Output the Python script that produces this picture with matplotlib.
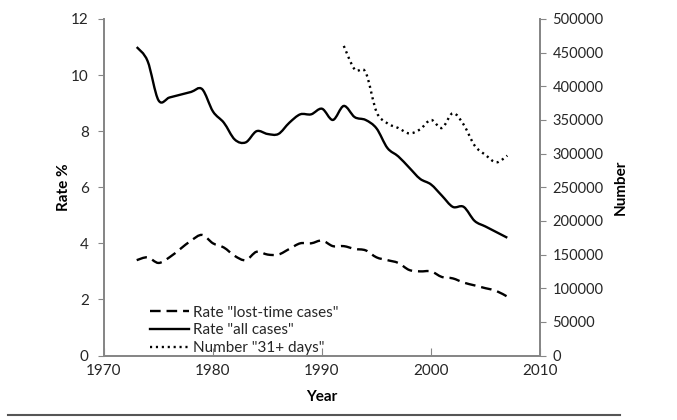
import matplotlib
matplotlib.use('Agg')
import numpy as np
import matplotlib.pyplot as plt
from matplotlib.path import Path
from matplotlib.patches import PathPatch
from matplotlib.lines import Line2D

plt.rcParams['font.family'] = ['Lato', 'DejaVu Sans']

years = list(range(1973, 2008))
rate_lost = [3.4, 3.5, 3.3, 3.5, 3.8, 4.1, 4.3, 4.0, 3.85, 3.55, 3.4, 3.7, 3.6, 3.6, 3.8, 4.0,
             4.0, 4.1, 3.9, 3.9, 3.8, 3.75, 3.5, 3.4, 3.3, 3.05, 3.0, 3.0, 2.8, 2.75, 2.6,
             2.5, 2.4, 2.3, 2.1]
rate_all = [11.0, 10.5, 9.1, 9.2, 9.3, 9.4, 9.5, 8.7, 8.3, 7.7, 7.6, 8.0, 7.9, 7.9, 8.3, 8.6,
            8.6, 8.8, 8.4, 8.9, 8.5, 8.4, 8.1, 7.4, 7.1, 6.7, 6.3, 6.1, 5.7, 5.3, 5.3,
            4.8, 4.6, 4.4, 4.2]
num_years = list(range(1992, 2008))
num_31 = [460000, 425000, 421000, 362000, 345000, 338000, 330000, 336000, 350000, 338000,
          360000, 343000, 312000, 298000, 287000, 297000]

gray = '#868686'
txt = '#262626'
fs = 11


def smooth(ax, x, y, **kw):
    # Excel-style smoothed line as a cubic bezier through the data points
    p = np.column_stack([x, y]).astype(float)
    n = len(p)
    verts = [p[0]]
    codes = [Path.MOVETO]
    for i in range(n - 1):
        p0, p1, p2, p3 = p[max(i - 1, 0)], p[i], p[i + 1], p[min(i + 2, n - 1)]
        verts += [p1 + (p2 - p0) / 6, p2 - (p3 - p1) / 6, p2]
        codes += [Path.CURVE4] * 3
    ax.add_patch(PathPatch(Path(verts, codes), fill=False, **kw))


fig = plt.figure(figsize=(6.77, 4.2), dpi=100)
ax = fig.add_axes([104 / 677, 1 - 355.5 / 420, 436 / 677, 336.5 / 420])
ax2 = ax.twinx()

dash_kw = dict(color='black', lw=1.7, linestyle=(0, (4.5, 2.5)))
solid_kw = dict(color='black', lw=1.7, linestyle='-')
dot_kw = dict(color='black', lw=1.7, linestyle=(0, (0.9, 1.6)))

smooth(ax, years, rate_lost, **dash_kw)
smooth(ax, years, rate_all, **solid_kw)
smooth(ax2, num_years, num_31, **dot_kw)

ax.set_xlim(1970, 2010)
ax.set_ylim(0, 12)
ax2.set_ylim(0, 500000)
ax.set_xticks(range(1970, 2011, 10))
ax.set_yticks(range(0, 13, 2))
ax2.set_yticks(range(0, 500001, 50000))

for a in (ax, ax2):
    a.spines['top'].set_visible(False)
    for s in ('left', 'right', 'bottom'):
        a.spines[s].set_color(gray)
        a.spines[s].set_linewidth(1.3)
ax.tick_params(axis='y', direction='out', length=4, color=gray, labelcolor=txt, labelsize=fs, pad=7)
ax.tick_params(axis='x', direction='in', length=6, color=gray, labelcolor=txt, labelsize=fs, pad=6)
ax2.tick_params(axis='y', direction='out', length=4, color=gray, labelcolor=txt, labelsize=10.5, pad=5)

ax.set_xlabel('Year', fontweight='bold', fontsize=fs, color='black', labelpad=9)
ax.set_ylabel('Rate %', fontweight='bold', fontsize=fs, color='black', labelpad=0)
ax2.set_ylabel('Number', fontweight='bold', fontsize=fs, color='black', labelpad=7)

handles = [Line2D([], [], **dash_kw), Line2D([], [], **solid_kw), Line2D([], [], **dot_kw)]
labels = ['Rate "lost-time cases"', 'Rate "all cases"', 'Number "31+ days"']
leg = ax.legend(handles, labels, loc='lower left', bbox_to_anchor=(0.075, -0.04), frameon=False,
                fontsize=fs, handlelength=2.5, handletextpad=0.3, labelspacing=0.25)
for t in leg.get_texts():
    t.set_color(txt)

fig.add_artist(Line2D([8 / 677, 620 / 677], [1 - 415 / 420] * 2, color='#555555', lw=1.5))

fig.savefig('out.png', dpi=100)
